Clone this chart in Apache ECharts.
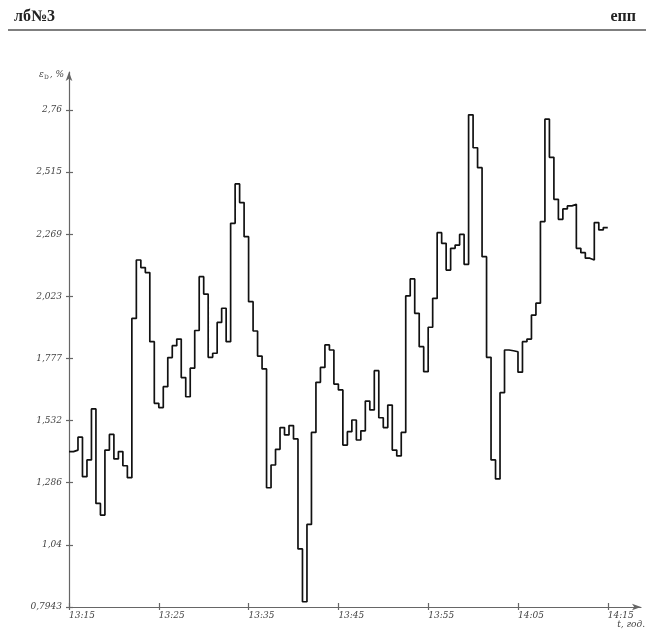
<!DOCTYPE html>
<html>
<head>
<meta charset="utf-8">
<script src="https://cdn.jsdelivr.net/npm/echarts@6/dist/echarts.min.js"></script>
<style>
html,body{margin:0;padding:0;background:#fff;}
#chart{width:646px;height:629px;}
</style>
</head>
<body>
<div id="chart"></div>
<script>
// Time axis: minutes after 13:15, each reading lasts half a minute
const stepMinutes = 0.5;
const xTickValues = [0, 10, 20, 30, 40, 50, 60];
const xTickLabels = ['13:15', '13:25', '13:35', '13:45', '13:55', '14:05', '14:15'];
const yTickValues = [0.7943, 1.04, 1.286, 1.532, 1.777, 2.023, 2.269, 2.515, 2.76];
const yTickLabels = ['0,7943', '1,04', '1,286', '1,532', '1,777', '2,023', '2,269', '2,515', '2,76'];
// ε_D, % readings (one per half minute)
const values = [
  1.409, 1.415, 1.466, 1.310, 1.376, 1.578, 1.204, 1.158, 1.415, 1.477,
  1.380, 1.409, 1.353, 1.306, 1.936, 2.167, 2.137, 2.117, 1.844, 1.600,
  1.583, 1.666, 1.781, 1.828, 1.854, 1.702, 1.626, 1.739, 1.888, 2.101,
  2.032, 1.782, 1.798, 1.920, 1.976, 1.844, 2.312, 2.468, 2.394, 2.259,
  2.002, 1.886, 1.787, 1.736, 1.266, 1.356, 1.418, 1.504, 1.475, 1.512,
  1.459, 1.024, 0.815, 1.121, 1.485, 1.683, 1.742, 1.831, 1.811, 1.676,
  1.653, 1.435, 1.488, 1.534, 1.455, 1.491, 1.609, 1.574, 1.729, 1.543,
  1.504, 1.593, 1.415, 1.392, 1.485, 2.025, 2.092, 1.956, 1.824, 1.725,
  1.901, 2.015, 2.275, 2.233, 2.127, 2.213, 2.226, 2.268, 2.150, 2.741,
  2.611, 2.532, 2.180, 1.782, 1.376, 1.301, 1.642, 1.811, 1.808, 1.804,
  1.723, 1.844, 1.854, 1.949, 1.996, 2.319, 2.724, 2.573, 2.407, 2.328,
  2.369, 2.381, 2.387, 2.213, 2.196, 2.174, 2.167, 2.315, 2.286, 2.295
];

const seriesData = values.map((v, i) => [i * stepMinutes, v]);
seriesData.push([values.length * stepMinutes, values[values.length - 1]]);

const labelFont = {
  fontFamily: 'DejaVu Serif',
  fontStyle: 'italic',
  fontSize: 9,
  color: '#444'
};
const axisColor = '#666';

const chart = echarts.init(document.getElementById('chart'), null, {renderer: 'canvas'});
chart.setOption({
  animation: false,
  backgroundColor: '#fff',
  title: [
    {text: 'лб№3', left: 9, top: 4, textStyle: {fontFamily: 'Liberation Serif', fontWeight: 'bold', fontSize: 16, color: '#222'}},
    {text: 'епп', right: 5, top: 4, textStyle: {fontFamily: 'Liberation Serif', fontWeight: 'bold', fontSize: 16, color: '#222'}}
  ],
  graphic: [
    {type: 'line', shape: {x1: 8, y1: 30, x2: 646, y2: 30}, style: {stroke: '#555', lineWidth: 1.5}},
    {type: 'text', x: 64, y: 75, style: {
      text: '{e|ε}{s|D}{e|, %}', align: 'right', verticalAlign: 'middle',
      rich: {
        e: {fontFamily: 'DejaVu Serif', fontStyle: 'italic', fontSize: 9, fill: '#444'},
        s: {fontFamily: 'DejaVu Serif', fontSize: 6, fill: '#444', verticalAlign: 'bottom', padding: [4, 1, 0, 0]}
      }
    }},
    {type: 'text', x: 645, y: 625, style: {
      text: 't, год.', align: 'right', verticalAlign: 'middle',
      fontFamily: 'DejaVu Serif', fontStyle: 'italic', fontSize: 9, fill: '#444'
    }}
  ],
  grid: {left: 69, right: 5, top: 72, bottom: 22, containLabel: false},
  xAxis: [
    {
      type: 'value', min: 0, max: 63.7, position: 'bottom',
      splitLine: {show: false},
      axisLine: {show: true, lineStyle: {color: axisColor, width: 1.2}, symbol: ['none', 'arrow'], symbolSize: [5, 9]},
      axisTick: {show: true, customValues: xTickValues, length: 3, lineStyle: {color: axisColor, width: 1.2}},
      axisLabel: Object.assign({
        show: true, customValues: xTickValues, align: 'left', margin: 4,
        formatter: v => xTickLabels[xTickValues.indexOf(Math.round(v))]
      }, labelFont)
    },
    {
      type: 'value', min: 0, max: 63.7, position: 'bottom', offset: 0,
      splitLine: {show: false},
      axisLine: {show: false},
      axisTick: {show: true, inside: true, customValues: xTickValues, length: 4, lineStyle: {color: axisColor, width: 1.2}},
      axisLabel: {show: false}
    }
  ],
  yAxis: [
    {
      type: 'value', min: 0.7943, max: 2.9106, position: 'left',
      splitLine: {show: false},
      axisLine: {show: true, lineStyle: {color: axisColor, width: 1.2}, symbol: ['none', 'arrow'], symbolSize: [5, 9]},
      axisTick: {show: true, customValues: yTickValues, length: 3, lineStyle: {color: axisColor, width: 1.2}},
      axisLabel: Object.assign({
        show: true, customValues: yTickValues, margin: 7,
        formatter: v => {
          let best = 0;
          for (let i = 0; i < yTickValues.length; i++) {
            if (Math.abs(yTickValues[i] - v) < Math.abs(yTickValues[best] - v)) best = i;
          }
          return yTickLabels[best];
        }
      }, labelFont)
    },
    {
      type: 'value', min: 0.7943, max: 2.9106, position: 'left', offset: 0,
      splitLine: {show: false},
      axisLine: {show: false},
      axisTick: {show: true, inside: true, customValues: yTickValues, length: 4, lineStyle: {color: axisColor, width: 1.2}},
      axisLabel: {show: false}
    }
  ],
  series: [{
    type: 'line',
    step: 'end',
    data: seriesData,
    xAxisIndex: 0,
    yAxisIndex: 0,
    symbol: 'none',
    lineStyle: {color: '#111', width: 1.7},
    silent: true
  }]
});
</script>
</body>
</html>
